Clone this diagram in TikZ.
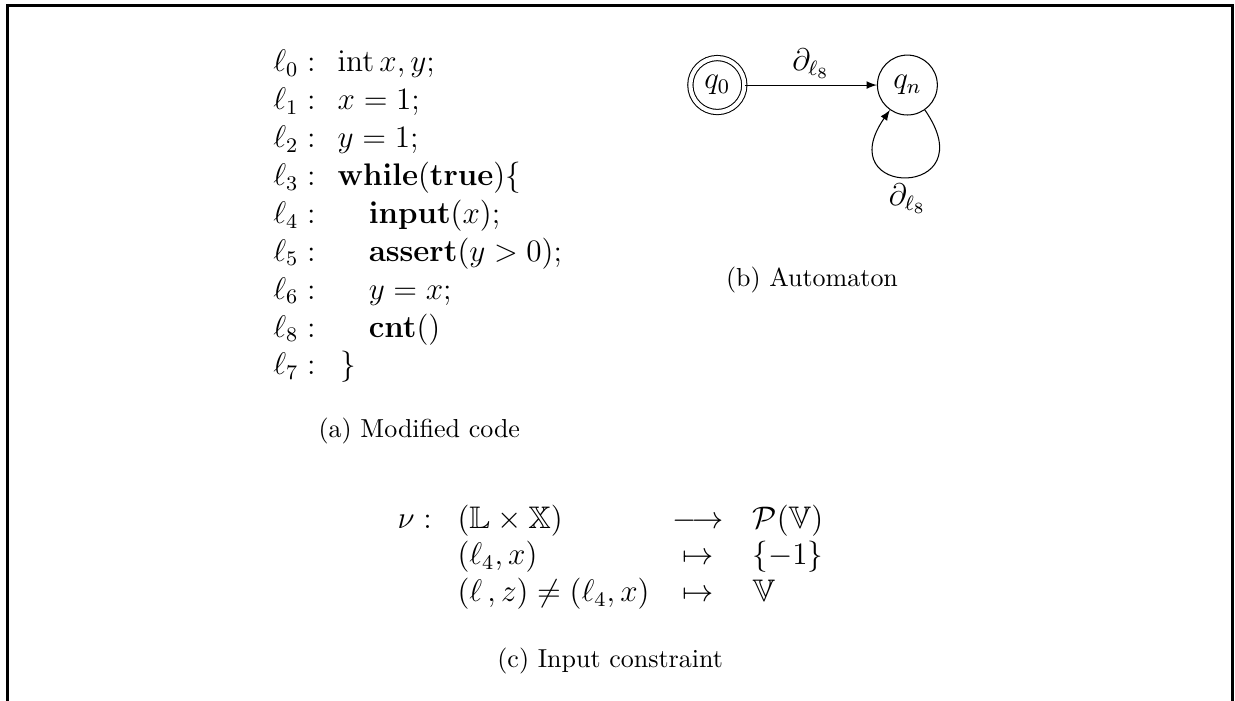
\documentclass[tikz,border=0pt]{standalone}
\usepackage{amsmath,amssymb}
\begin{document}
\begin{tikzpicture}[>=latex,
  every node/.style={font=\large},
  txt/.style={anchor=base west,inner sep=0pt},
  state/.style={draw,circle,inner sep=0pt,minimum size=0.81cm},
  accept/.style={state,minimum size=0.73cm,double,double distance=1.6pt},
  caption/.style={font=\normalsize,anchor=base,inner sep=0pt}]
  \useasboundingbox (0,0) rectangle (16.70,-9.47);
  \draw[line width=1.2pt] (0.10,-9.6) -- (0.10,-0.07) -- (16.67,-0.07) -- (16.67,-9.6);
  % (a) modified code
  \foreach \i/\l/\x/\code in {0/0/4.56/{$\mathrm{int}\,x,y;$},
      1/1/4.56/{$x=1;$}, 2/2/4.56/{$y=1;$},
      3/3/4.56/{$\mathbf{while}(\mathbf{true})\{$},
      4/4/4.98/{$\mathbf{input}(x);$}, 5/5/4.98/{$\mathbf{assert}(y>0);$},
      6/6/4.98/{$y=x;$}, 7/8/4.98/{$\mathbf{cnt}()$}, 8/7/4.60/{$\}$}}
  {
    \node[txt] (l\i) at (3.69,-0.97-0.5125*\i) {$\ell_{\l}:$};
    \node[txt] (c\i) at (\x,-0.97-0.5125*\i) {\code};
  }
  \node[caption] (capa) at (5.67,-5.92) {(a) Modified code};
  % (b) automaton
  \node[accept] (q0) at (9.70,-1.15) {$q_0$};
  \node[state] (qn) at (12.27,-1.15) {$q_n$};
  \draw[->] (q0) -- node[above,inner sep=2.5pt] {$\partial_{\ell_8}$} (qn);
  \draw[->] (qn) to[out=-55,in=-125,looseness=8] node[below,inner sep=2.5pt] {$\partial_{\ell_8}$} (qn);
  \node[caption] (capb) at (10.98,-3.88) {(b) Automaton};
  % (c) input constraint
  \node[txt] (nu) at (5.37,-7.14) {$\nu:$};
  \node[txt] (dom) at (6.18,-7.14) {$(\mathbb{L}\times\mathbb{X})$};
  \node[anchor=base,inner sep=0pt] (to1) at (9.44,-7.14) {$\longrightarrow$};
  \node[txt] (cod) at (10.17,-7.14) {$\mathcal{P}(\mathbb{V})$};
  \node[txt] (in1) at (6.18,-7.64) {$(\ell_4,x)$};
  \node[anchor=base,inner sep=0pt] (to2) at (9.44,-7.64) {$\mapsto$};
  \node[txt] (out1) at (10.17,-7.64) {$\{-1\}$};
  \node[txt] (in2) at (6.18,-8.14) {$(\ell\,,z)\neq(\ell_4,x)$};
  \node[anchor=base,inner sep=0pt] (to3) at (9.44,-8.14) {$\mapsto$};
  \node[txt] (out2) at (10.17,-8.14) {$\mathbb{V}$};
  \node[caption] (capc) at (8.25,-9.02) {(c) Input constraint};
\end{tikzpicture}
\end{document}
